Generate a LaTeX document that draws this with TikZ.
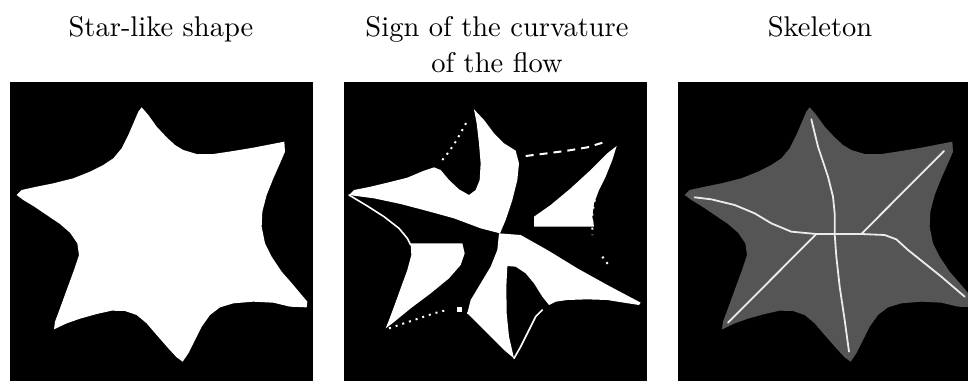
\documentclass[tikz,border=0pt]{standalone}
\usepackage{fontspec}
\newfontfamily\tenrm{lmroman10-regular}[Extension=.otf]
\definecolor{skelgray}{RGB}{85,85,85}
\tikzset{
  panel/.style={fill=black},
  title/.style={font=\tenrm\fontsize{28.5}{36.7}\selectfont, inner sep=0pt, align=center},
  whiteregion/.style={fill=white},
  border/.style={draw=white, line width=1.6pt, line join=round, line cap=round},
  dotline/.style={draw=white, line width=2pt, dash pattern=on 2pt off 5pt},
  dashline/.style={draw=white, line width=2pt, dash pattern=on 8pt off 6pt},
  skel/.style={draw=white!92!black, line width=1.8pt, line join=round, line cap=round}
}
\def\starpath{(425,82) -- (445,105) -- (470,140) -- (500,172) -- (525,195) -- (550,210) -- (590,222) -- (640,222) -- (700,213) -- (760,203) -- (853,185) -- (855,215) -- (840,250) -- (820,295) -- (800,345) -- (787,395) -- (785,440) -- (795,490) -- (815,530) -- (845,575) -- (880,615) -- (905,645) -- (922,665) -- (920,682) -- (870,680) -- (820,668) -- (760,665) -- (700,670) -- (660,682) -- (630,705) -- (605,740) -- (585,780) -- (565,820) -- (548,845) -- (530,832) -- (505,805) -- (470,765) -- (440,730) -- (410,705) -- (375,693) -- (335,692) -- (290,702) -- (240,716) -- (200,730) -- (162,748) -- (165,725) -- (180,685) -- (200,630) -- (222,570) -- (237,525) -- (232,490) -- (210,458) -- (180,432) -- (140,405) -- (100,378) -- (70,360) -- (50,345) -- (65,330) -- (110,320) -- (160,310) -- (220,295) -- (270,275) -- (310,255) -- (340,235) -- (365,205) -- (385,165) -- (400,130) -- (415,95) -- cycle}
\begin{document}
\begin{tikzpicture}[x=1pt,y=-1pt]
\useasboundingbox (0,0) rectangle (968,381);
% titles
\node[title, anchor=base] (t1) at (161,36) {Star-like shape};
\node[title, anchor=base] (t2) at (497,72.7) {Sign of the curvature\\of the flow};
\node[title, anchor=base] (t3) at (820,36) {Skeleton};
% panels
\fill[panel] (10,82) rectangle (313,381);
\fill[panel] (344,82) rectangle (647,381);
\fill[panel] (678,82) rectangle (968,381);
% panel 1: star
\begin{scope}[shift={(0,80)}, scale=1/3]
  \fill[white] \starpath;
\end{scope}
% panel 2: sign of curvature
\begin{scope}[shift={(334,80)}, scale=1/3]
  \fill[whiteregion] (45,345) -- (60,330) -- (110,320) -- (160,308) -- (220,293) -- (270,272) -- (300,262) -- (320,270) -- (345,300) -- (375,328) -- (405,345) -- (425,330) -- (437,300) -- (440,250) -- (435,190) -- (428,130) -- (420,88) -- (450,120) -- (480,160) -- (510,190) -- (545,212) -- (555,250) -- (550,300) -- (535,360) -- (515,420) -- (498,460) -- (440,445) -- (360,415) -- (280,393) -- (200,372) -- (120,355) -- cycle;
  \fill[whiteregion] (230,490) -- (385,490) -- (392,520) -- (380,555) -- (345,595) -- (290,640) -- (230,685) -- (175,730) -- (155,745) -- (165,720) -- (180,680) -- (200,625) -- (220,570) -- (232,525) -- cycle;
  \fill[whiteregion] (495,460) -- (560,465) -- (640,510) -- (730,565) -- (820,615) -- (920,668) -- (915,675) -- (870,668) -- (820,660) -- (760,658) -- (700,660) -- (665,665) -- (645,675) -- (625,650) -- (600,610) -- (575,580) -- (545,560) -- (520,558) -- (517,620) -- (518,700) -- (525,770) -- (540,835) -- (510,810) -- (470,770) -- (435,735) -- (400,700) -- (410,660) -- (440,610) -- (470,560) -- (490,510) -- cycle;
  \fill[whiteregion] (600,410) -- (650,375) -- (710,325) -- (770,270) -- (820,220) -- (848,198) -- (835,240) -- (815,290) -- (795,330) -- (780,370) -- (775,410) -- (780,440) -- (600,440) -- cycle;
  \draw[border] (45,345) -- (100,378) -- (150,410) -- (195,445) -- (220,475) -- (230,495);
  \draw[border] (540,835) -- (560,800) -- (585,750) -- (605,710) -- (625,690);
  \draw[dotline] (325,240) -- (345,215) -- (365,185) -- (385,150) -- (400,122);
  \draw[dashline] (575,228) -- (640,220) -- (700,212) -- (760,202) -- (822,183);
  \draw[dotline] (790,318) -- (782,360) -- (775,400) -- (775,465);
  \draw[dotline] (805,530) -- (822,553);
  \draw[dotline] (165,745) -- (240,720) -- (300,700) -- (340,690);
  \fill[white] (370,682) rectangle (385,697);
  \draw[dotline] (400,698) -- (428,708);
\end{scope}
% panel 3: skeleton
\begin{scope}[shift={(668,80)}, scale=1/3]
  \fill[skelgray] \starpath;
  \coordinate (c) at (500,462);
  \coordinate (cl) at (445,462);
  \coordinate (cr) at (580,462);
  \draw[skel] (430,118) -- (450,200) -- (480,290) -- (495,350) -- (500,400) -- (c);
  \draw[skel] (c) -- (505,530) -- (515,620) -- (530,720) -- (543,815);
  \draw[skel] (80,352) -- (130,358) -- (200,375) -- (260,400) -- (310,430) -- (370,455) -- (cl) -- (c) -- (cr) -- (650,465) -- (685,478) -- (720,510) -- (770,550) -- (820,590) -- (890,650);
  \draw[skel] (180,728) -- (cl);
  \draw[skel] (cr) -- (828,213);
\end{scope}
\end{tikzpicture}
\end{document}
